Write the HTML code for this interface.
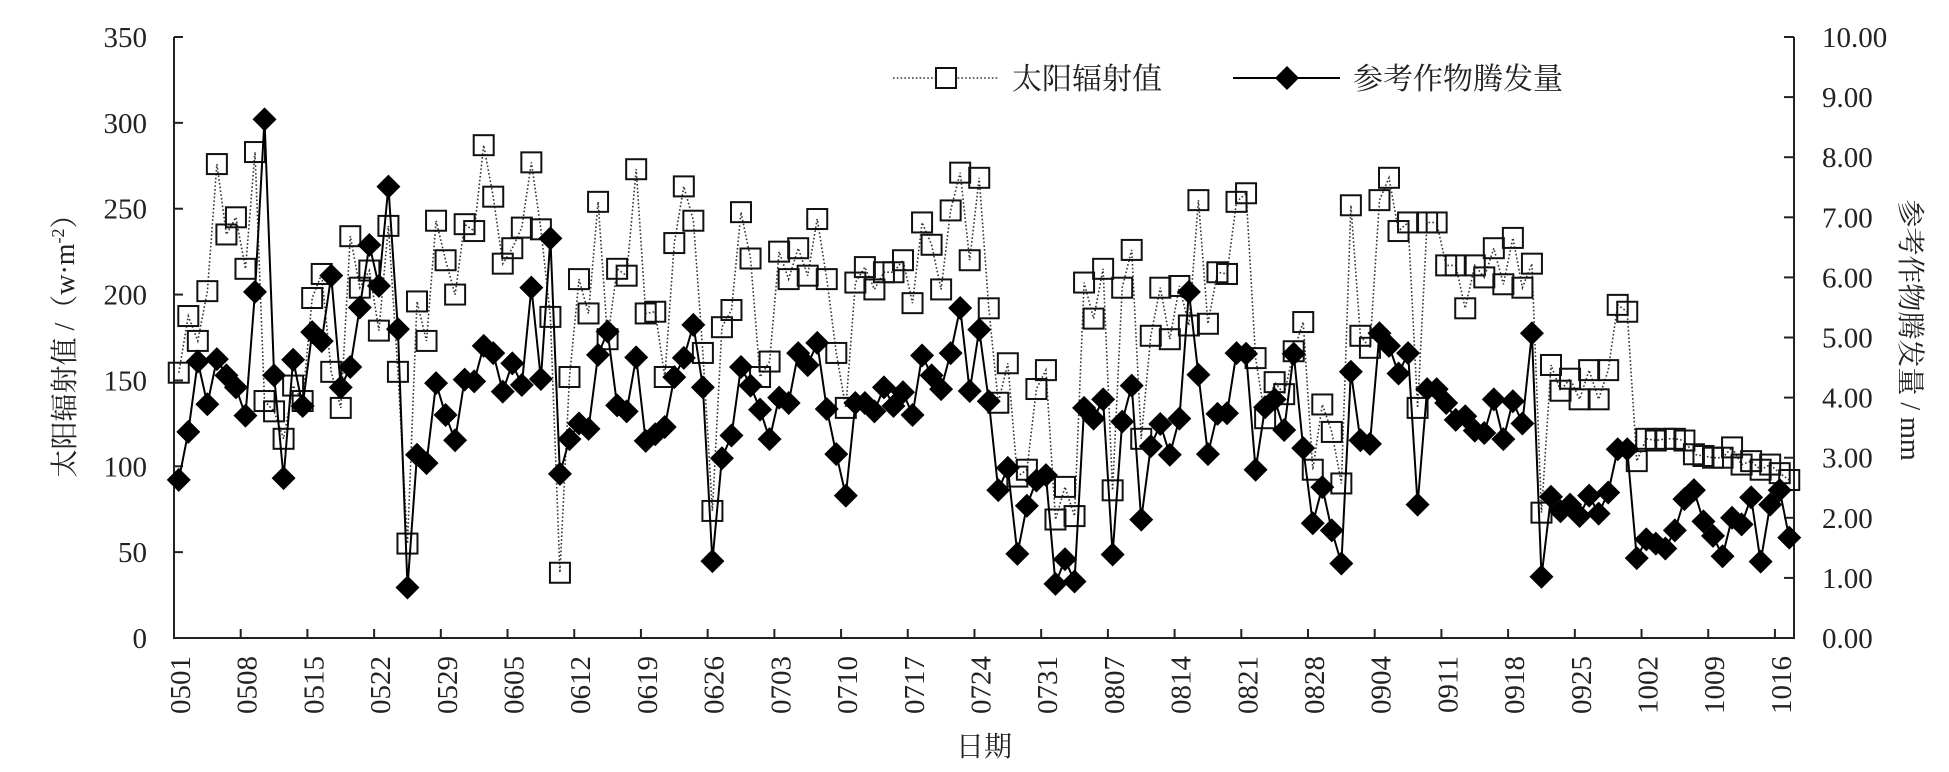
<!DOCTYPE html>
<html><head><meta charset="utf-8"><style>
html,body{margin:0;padding:0;background:#fff;}
svg{display:block;}
text{font-family:"Liberation Serif","Noto Serif CJK SC","Noto Sans CJK SC",serif;fill:#222;}
</style></head><body>
<svg id="chart" xmlns="http://www.w3.org/2000/svg" width="1949" height="772" viewBox="0 0 1949 772"></svg>
<script>
const solar = [154.5,187.5,173,202,276,235,245,215,283,138,132,116,147,138,198,212,155,134,234,204,
214,179,240,155,55,196,173,243,220,200,241,237,287,257,218,227,239,277,238,187,
38,152,209,189,254,174,215,211,273,189,190,152,230,263,243,166,74,181,191,248,
221,152,161,225,209,227,211,244,209,166,134,207,216,203,213,213,220,195,242,229,
203,249,271,220,268,192,137,160,94,98,145,156,69,88,71,207,186,215,86,204,
226,116,176,204,174,205,182,255,183,213,212,254,259,163,128,149,142,167,184,98,
136,120,90,252,176,169,255,268,237,242,134,242,242,217,217,192,217,210,227,206,
233,204,218,73,159,144,151,139,156,139,156,194,190,103,116,115,116,116,115,107,
106,105,105,111,101,103,98,101,96,92];
const et = [2.63,3.43,4.60,3.89,4.64,4.37,4.17,3.70,5.76,8.63,4.37,2.66,4.63,3.86,5.09,4.94,6.03,4.17,4.51,5.50,
6.54,5.86,7.51,5.14,0.84,3.05,2.91,4.24,3.71,3.29,4.30,4.27,4.86,4.74,4.10,4.57,4.21,5.83,4.31,6.65,
2.73,3.31,3.57,3.48,4.71,5.10,3.87,3.77,4.67,3.28,3.39,3.51,4.34,4.66,5.21,4.17,1.28,2.99,3.37,4.51,
4.20,3.80,3.31,4.00,3.91,4.74,4.54,4.91,3.81,3.06,2.37,3.91,3.91,3.77,4.17,3.86,4.09,3.71,4.70,4.37,
4.14,4.74,5.49,4.11,5.13,3.94,2.46,2.83,1.40,2.20,2.62,2.71,0.90,1.31,0.94,3.83,3.65,3.97,1.39,3.60,
4.20,1.97,3.19,3.56,3.05,3.65,5.76,4.38,3.06,3.73,3.74,4.74,4.73,2.80,3.84,3.97,3.46,4.73,3.16,1.91,
2.51,1.79,1.24,4.43,3.29,3.23,5.07,4.86,4.40,4.74,2.22,4.14,4.14,3.91,3.63,3.69,3.45,3.41,3.97,3.31,
3.94,3.57,5.07,1.02,2.35,2.11,2.22,2.03,2.37,2.07,2.42,3.14,3.14,1.33,1.64,1.57,1.49,1.79,2.31,2.46,
1.94,1.70,1.36,2.00,1.89,2.34,1.27,2.22,2.46,1.67];
const xTickLabels = ["0501","0508","0515","0522","0529","0605","0612","0619","0626","0703","0710","0717","0724","0731","0807","0814","0821","0828","0904","0911","0918","0925","1002","1009","1016"];
const leftTicks = [0,50,100,150,200,250,300,350];
const rightTicks = [0,1,2,3,4,5,6,7,8,9,10];

const NS="http://www.w3.org/2000/svg";
const svg=document.getElementById('chart');
const X0=174,X1=1794,Y0=638,Y1=37;
const nCat=170, w=(X1-X0)/nCat;
const xPos=i=>X0+(i+0.5)*w;
const yL=v=>Y0-(v/350)*(Y0-Y1);
const yR=v=>Y0-(v/10)*(Y0-Y1);
function mk(tag,attrs,parent){const e=document.createElementNS(NS,tag);for(const k in attrs)e.setAttribute(k,attrs[k]);(parent||svg).appendChild(e);return e;}

const axes=mk('g',{});


let a=mk('path',{d:`M${X0},${Y1} V${Y0} H${X1} V${Y1}`,fill:'none',stroke:'#222','stroke-width':2},axes);



leftTicks.forEach(v=>{
  const y=yL(v);
  const t=mk('line',{x1:X0,x2:X0+9,y1:y,y2:y,stroke:'#222','stroke-width':2},axes);
  
  
  const l=mk('text',{x:147,y:y+10,'text-anchor':'end','font-size':29},axes);
  
  
  l.textContent=v;
});
rightTicks.forEach(v=>{
  const y=yR(v);
  const t=mk('line',{x1:X1-10,x2:X1,y1:y,y2:y,stroke:'#222','stroke-width':2},axes);
  
  
  const l=mk('text',{x:1822,y:y+10,'text-anchor':'start','font-size':29},axes);
  
  
  l.textContent=v.toFixed(2);
});
xTickLabels.forEach((s,k)=>{
  const x=X0+k*7*w;
  const t=mk('line',{x1:x,x2:x,y1:Y0-9,y2:Y0,stroke:'#222','stroke-width':2},axes);
  
  
  const l=mk('text',{x:0,y:0,'text-anchor':'end','font-size':29,transform:`translate(${x+16},${656}) rotate(-90)`},axes);
  
  
  l.textContent=s;
});

function pts(arr,fy){return arr.map((v,i)=>`${xPos(i).toFixed(1)},${fy(v).toFixed(1)}`).join(' ');}
const sg=mk('g',{});


const sl=mk('polyline',{points:pts(solar,yL),fill:'none',stroke:'#333','stroke-width':1.6,'stroke-dasharray':'1.6 2.2'},sg);


solar.forEach((v,i)=>{
  const r=mk('rect',{x:xPos(i)-10,y:yL(v)-10,width:20,height:20,fill:'none',stroke:'#111','stroke-width':2},sg);
  
  
});
const eg=mk('g',{});


const el2=mk('polyline',{points:pts(et,yR),fill:'none',stroke:'#000','stroke-width':2},eg);


et.forEach((v,i)=>{
  const x=xPos(i),y=yR(v);
  const d=mk('polygon',{points:`${x},${y-12} ${x+12},${y} ${x},${y+12} ${x-12},${y}`,fill:'#000'},eg);
  
  
});

let tt=mk('text',{x:0,y:0,'text-anchor':'middle','font-size':28,transform:'translate(74,339) rotate(-90)'});


tt.innerHTML='太阳辐射值 /（w·m<tspan dy="-10" font-size="18">-2</tspan><tspan dy="10">）</tspan>';
tt=mk('text',{x:0,y:0,'text-anchor':'middle','font-size':28,transform:'translate(1901,330) rotate(90)'});


tt.textContent='参考作物腾发量 / mm';
tt=mk('text',{x:984,y:756,'text-anchor':'middle','font-size':28});


tt.textContent='日期';

const lg=mk('g',{});


let li=mk('line',{x1:893,x2:998,y1:78,y2:78,stroke:'#333','stroke-width':1.6,'stroke-dasharray':'1.6 2.2'},lg);


li=mk('rect',{x:936,y:68,width:20,height:20,fill:'#fff',stroke:'#111','stroke-width':2},lg);


li=mk('text',{x:1012,y:89,'font-size':30},lg);


li.textContent='太阳辐射值';
li=mk('line',{x1:1233,x2:1340,y1:78,y2:78,stroke:'#000','stroke-width':2},lg);


li=mk('polygon',{points:'1287,66 1299,78 1287,90 1275,78',fill:'#000'},lg);


li=mk('text',{x:1353,y:89,'font-size':30},lg);


li.textContent='参考作物腾发量';
</script>
</body></html>
